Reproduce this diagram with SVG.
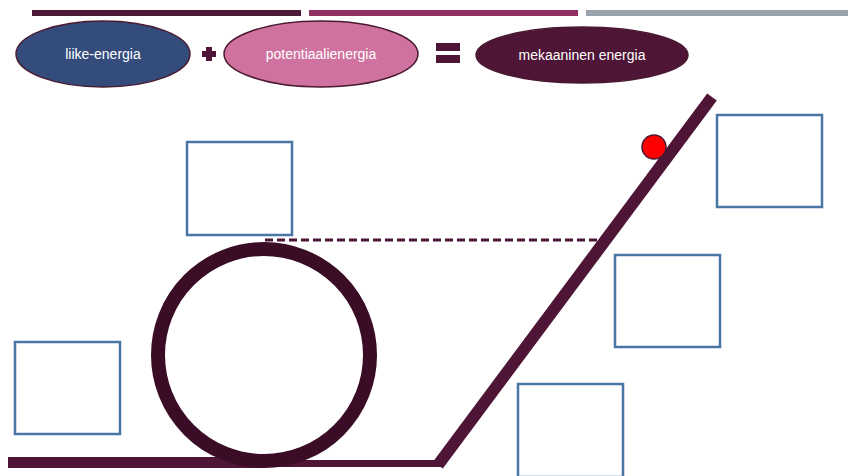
<svg xmlns="http://www.w3.org/2000/svg" width="848" height="476" viewBox="0 0 848 476">
<style>
.lbl{font-family:"Liberation Sans",Arial,sans-serif;font-size:14px;fill:#ffffff;text-anchor:middle;dominant-baseline:central}
.ell{stroke:#4a1a30;stroke-width:1.5}
.box{fill:#ffffff;stroke:#4a76a5;stroke-width:2.5}
.track{fill:#4e1536}
</style>
<rect width="848" height="476" fill="#ffffff"/>
<g id="topbars">
<rect x="32" y="10" width="269" height="6" fill="#4e1838"/>
<rect x="309" y="10" width="269" height="6" fill="#902f62"/>
<rect x="586" y="10" width="262" height="6" fill="#9aa2ab"/>
</g>
<g id="liike-energia">
<ellipse class="ell" cx="103" cy="54" rx="87" ry="33" fill="#334c7c"/>
<text class="lbl" x="103" y="54">liike-energia</text>
</g>
<g id="plus">
<rect x="202" y="51" width="14" height="6" fill="#4e1536"/>
<rect x="206" y="47" width="6" height="14" fill="#4e1536"/>
</g>
<g id="potentiaalienergia">
<ellipse class="ell" cx="321" cy="54" rx="97" ry="33" fill="#d072a0"/>
<text class="lbl" x="321" y="54">potentiaalienergia</text>
</g>
<g id="equals">
<rect x="436" y="43" width="24" height="8" fill="#4e1536"/>
<rect x="436" y="55" width="24" height="8" fill="#4e1536"/>
</g>
<g id="mekaaninen-energia">
<ellipse class="ell" cx="582" cy="55" rx="106" ry="28" fill="#4e1536"/>
<text class="lbl" x="582" y="55">mekaaninen energia</text>
</g>
<g id="ground">
<rect class="track" x="8" y="457" width="258" height="11"/>
<rect class="track" x="265" y="460" width="176" height="7"/>
<line x1="438" y1="465" x2="712" y2="97" stroke="#4e1536" stroke-width="12"/>
</g>
<g id="loop">
<circle cx="264" cy="355" r="106" fill="none" stroke="#3a0c25" stroke-width="14"/>
</g>
<g id="connectors">
<line x1="265" y1="240" x2="600" y2="240" stroke="#4e1536" stroke-width="3" stroke-dasharray="8,4"/>
</g>
<g id="ball">
<circle cx="654" cy="147" r="12" fill="#ff0000" stroke="#4a1a30" stroke-width="1.5"/>
</g>
<g id="box-a"><rect class="box" x="187" y="142" width="105" height="93"/></g>
<g id="box-b"><rect class="box" x="717" y="115" width="105" height="92"/></g>
<g id="box-c"><rect class="box" x="615" y="255" width="105" height="92"/></g>
<g id="box-d"><rect class="box" x="15" y="342" width="105" height="92"/></g>
<g id="box-e"><rect class="box" x="518" y="384" width="105" height="93"/></g>
</svg>
